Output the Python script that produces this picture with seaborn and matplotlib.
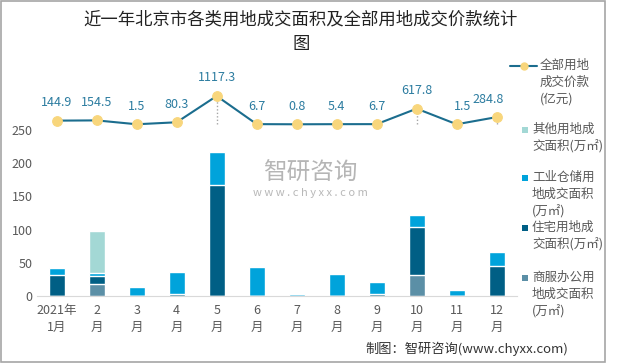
import numpy as np
import pandas as pd
import matplotlib
matplotlib.use("Agg")
import matplotlib.pyplot as plt
import seaborn as sns
from matplotlib.lines import Line2D
from matplotlib.patches import Rectangle

# --- data ---
months = ["2021年\n1月", "2\n月", "3\n月", "4\n月", "5\n月", "6\n月",
          "7\n月", "8\n月", "9\n月", "10\n月", "11\n月", "12\n月"]
shangfu = [0, 18.5, 0, 0, 0, 0, 0, 0, 0, 31.5, 0, 0]          # 商服办公用地
zhuzhai = [31, 11, 0, 3.5, 167, 0, 0, 0, 2.5, 72, 0, 45.5]    # 住宅用地
gongye = [11, 4.5, 13, 32.5, 50, 44, 2.5, 33, 18, 18.5, 9.5, 20]  # 工业仓储用地
qita = [0, 64.5, 0, 0, 0, 0, 0, 0, 0, 0, 0, 0]                # 其他用地
price = [144.9, 154.5, 1.5, 80.3, 1117.3, 6.7, 0.8, 5.4, 6.7, 617.8, 1.5, 284.8]  # 亿元

c_qita = "#A3D8D5"
c_gongye = "#00A3DB"
c_zhuzhai = "#005F85"
c_shangfu = "#5B8FA6"
c_line = "#1B6D8E"
c_dot = "#F8D67C"

sns.set_style("white")
plt.rcParams['font.family'] = ['Noto Sans CJK SC', 'DejaVu Sans']

df = pd.DataFrame({"month": months, "shangfu": shangfu, "zhuzhai": zhuzhai,
                   "gongye": gongye, "qita": qita, "price": price})
df["s1"] = df["shangfu"]
df["s2"] = df["s1"] + df["zhuzhai"]
df["s3"] = df["s2"] + df["gongye"]
df["s4"] = df["s3"] + df["qita"]

fig = plt.figure(figsize=(6.2, 3.64), dpi=100)
ax = fig.add_axes([36.7 / 620, 1 - 296 / 364, 480 / 620, 216 / 364])

# stacked bars: draw cumulative totals from top layer down
for col, color in [("s4", c_qita), ("s3", c_gongye), ("s2", c_zhuzhai), ("s1", c_shangfu)]:
    sns.barplot(data=df, x="month", y=col, color=color, width=0.4,
                saturation=1, ax=ax, zorder=2)

ax.set_ylim(0, 325)
ax.set_yticks([0, 50, 100, 150, 200, 250])
ax.set_xlabel("")
ax.set_ylabel("")
ax.set_xlim(-0.5, 11.5)
for s in ["top", "right", "left"]:
    ax.spines[s].set_visible(False)
ax.spines["bottom"].set_color("#D9D9D9")
ax.tick_params(axis="y", length=0, labelsize=9, labelcolor="#595959", pad=3)
ax.tick_params(axis="x", which="major", length=0, labelsize=9, labelcolor="#595959", pad=6)
ax.set_xticks(np.arange(-0.5, 12, 1), minor=True)
ax.tick_params(axis="x", which="minor", length=4, color="#D9D9D9", width=0.8)
for lab in ax.get_xticklabels():
    lab.set_linespacing(1.35)

# price line on its own scale above the bars
ax2 = ax.twinx()
ax2.set_ylim(-6782, 1750)
ax2.axis("off")
x = np.arange(len(price))
ax2.vlines(x, 0, price, colors="#A6A6A6", linestyles=(0, (1, 1.5)), linewidth=1, zorder=1)
sns.lineplot(x=x, y=price, ax=ax2, color=c_line, linewidth=1.5, marker="o",
             markersize=7, markerfacecolor=c_dot, markeredgecolor=c_dot, zorder=3)
# the last two labels sit a little closer together in the original
nudge = [0] * 10 + [4, -6]
for xi, v, dx in zip(x, price, nudge):
    ax2.annotate(f"{v:g}", (xi, v), xytext=(dx, 13), textcoords="offset points",
                 ha="center", va="center", fontsize=9, color="#2C7CA0")

def fy(px):
    return 1 - px / 364

# title
fig.text(0.485, fy(32), "近一年北京市各类用地成交面积及全部用地成交价款统计\n图",
         ha="center", va="center", fontsize=12.5, color="#222222", linespacing=1.45)

# watermark
fig.text(310 / 620, fy(173), "智研咨询", ha="center", va="center",
         fontsize=17, color="#B5B5B5")
fig.text(310 / 620, fy(193), "w w w . c h y x x . c o m", ha="center", va="center",
         fontsize=8, color="#B8B8B8")

# legend (drawn by hand so markers line up with the first text line)
fig.add_artist(Line2D([510 / 620, 537 / 620], [fy(66), fy(66)], color=c_line, linewidth=1.5))
fig.add_artist(Line2D([523.5 / 620], [fy(66)], marker="o", markersize=5,
                      markerfacecolor=c_dot, markeredgecolor=c_dot))
fig.text(540 / 620, fy(59), "全部用地\n成交价款\n(亿元)", ha="left", va="top",
         fontsize=9, color="#595959", linespacing=1.4)
entries = [(130, c_qita, "其他用地成\n交面积(万㎡)"),
           (178, c_gongye, "工业仓储用\n地成交面积\n(万㎡)"),
           (228, c_zhuzhai, "住宅用地成\n交面积(万㎡)"),
           (278, c_shangfu, "商服办公用\n地成交面积\n(万㎡)")]
for ypx, color, text in entries:
    fig.add_artist(Rectangle((521.5 / 620, fy(ypx + 3)), 6 / 620, 6 / 364,
                             facecolor=color, edgecolor="none", transform=fig.transFigure))
    fig.text(532 / 620, fy(ypx - 7), text, ha="left", va="top",
             fontsize=9, color="#595959", linespacing=1.4)

# credit
fig.text(568 / 620, fy(349), "制图：智研咨询(www.chyxx.com)", ha="right", va="center",
         fontsize=9.5, color="#333333")

# outer frame
fig.add_artist(Rectangle((1 / 620, fy(362)), 604 / 620, 361 / 364, fill=False,
                         edgecolor="#A6A6A6", linewidth=1.2, transform=fig.transFigure))

fig.savefig("out.png", dpi=100)
